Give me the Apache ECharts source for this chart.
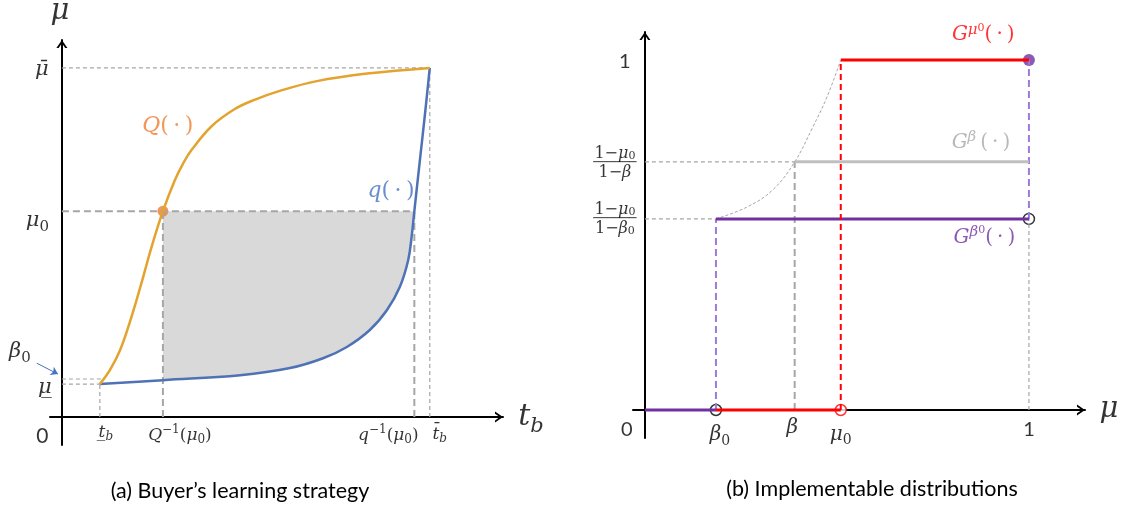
<!DOCTYPE html>
<html><head><meta charset="utf-8">
<script src="https://cdn.jsdelivr.net/npm/echarts@6/dist/echarts.min.js"></script>
<style>html,body{margin:0;padding:0;background:#fff;}#c{width:1123px;height:508px;}</style>
</head><body><div id="c"></div>
<script>
// ---------- Panel (a): buyer's learning strategy ----------
const tbLow = 0.86, QInv = 2.29, qInv = 7.99, tbBar = 8.34;
const muLow = 0.875, beta0L = 1.01, mu0L = 5.46, muBar = 9.26;
const QCurve = [[0.86,0.875],[1.09,1.25],[1.32,1.78],[1.54,2.52],[1.79,3.50],[2.04,4.54],[2.29,5.46],[2.56,6.28],[2.75,6.73],[2.95,7.10],[3.40,7.72],[3.92,8.17],[4.38,8.42],[4.94,8.65],[5.78,8.91],[6.92,9.11],[8.34,9.26]];
const qCurve = [[0.86,0.875],[2.29,0.98],[4.04,1.11],[5.17,1.30],[5.92,1.56],[6.46,1.86],[6.98,2.31],[7.37,2.84],[7.66,3.45],[7.85,4.16],[7.93,4.80],[7.99,5.46],[8.11,6.75],[8.23,8.02],[8.34,9.26]];
const leftXTickValues = [tbLow, QInv, qInv, tbBar];
const leftXTickLabels = ['{i|t\u0332}{si|b}', '{i|Q}{p|\u22121}{r|(}{i|μ}{s|0}{r|)}', '{i|q}{p|\u22121}{r|(}{i|μ}{s|0}{r|)}', '{i|t\u0304}{si|b}'];
const leftYTickValues = [muBar, mu0L, beta0L, muLow];
const leftYTickLabels = ['{i|μ\u0304}', '{i|μ}{s|0}', '{i|β}{s|0}', '{i|μ\u0332}'];

// ---------- Panel (b): implementable distributions ----------
const beta0 = 0.185, beta = 0.39, mu0 = 0.51;
const levelBeta0 = 0.546, levelBeta = 0.709, levelOne = 1;
const boundaryCurve = [[0.185,0.546],[0.266,0.58],[0.333,0.629],[0.39,0.709],[0.4375,0.809],[0.474,0.894],[0.51,1.0]];
const rightXTickValues = [beta0, beta, mu0, 1];
const rightXTickLabels = ['{i|β}{s|0}', '{i|β}', '{i|μ}{s|0}', '{n|1}'];
const rightYTickValues = [levelOne, levelBeta, levelBeta0];
const rightYTickLabels = ['{n|1}',
  '{r|1\u2212}{i|μ}{s|0}\n{bar|──────}\n{r|1\u2212}{i|β}',
  '{r|1\u2212}{i|μ}{s|0}\n{bar|──────}\n{r|1\u2212}{i|β}{s|0}'];

// ---------- styling helpers ----------
const F = 'DejaVu Serif';
function rich(size, lhf) {
  lhf = lhf || 1.3;
  const lh = Math.round(size * lhf), ss = Math.round(size * 0.7);
  return {
    i: {fontFamily: F, fontStyle: 'italic', fontSize: size, lineHeight: lh},
    r: {fontFamily: F, fontSize: size, lineHeight: lh},
    n: {fontFamily: 'Lato', fontSize: size, lineHeight: lh},
    s: {fontFamily: F, fontSize: ss, lineHeight: ss, verticalAlign: 'bottom'},
    si: {fontFamily: F, fontStyle: 'italic', fontSize: ss, lineHeight: ss, verticalAlign: 'bottom'},
    p: {fontFamily: F, fontSize: ss, lineHeight: ss, verticalAlign: 'top'},
    pi: {fontFamily: F, fontStyle: 'italic', fontSize: Math.round(size * 0.75), lineHeight: Math.round(size * 0.75), verticalAlign: 'top'},
    ps: {fontFamily: F, fontSize: Math.round(size * 0.55), lineHeight: Math.round(size * 1.0), verticalAlign: 'top'},
    bar: {fontFamily: 'DejaVu Sans', fontSize: 12, lineHeight: 3}
  };
}
function lab(value, txt, dx, dy, size, color, lhf) {
  return {value: value, txt: txt, label: {offset: [dx, dy], color: color || '#000', fontSize: size, fontFamily: F,
    rich: rich(size, lhf), align: 'center', verticalAlign: 'middle'}};
}
function labels(grid, items) {
  return {type: 'scatter', xAxisIndex: grid, yAxisIndex: grid, data: items, symbolSize: 1, clip: false, silent: true, z: 10,
    itemStyle: {color: 'rgba(0,0,0,0)'},
    label: {show: true, position: 'inside', formatter: p => p.data.txt, textBorderWidth: 0}};
}
function seg(grid, pts, color, width, type, smooth) {
  return {type: 'line', xAxisIndex: grid, yAxisIndex: grid, data: pts, showSymbol: false, symbol: 'none', silent: true,
    smooth: smooth || false, clip: false,
    lineStyle: {color: color, width: width, type: type || 'solid', cap: 'butt'}};
}
const G = '#A6A6A6', THIN = [4, 3], THICK = [7, 4];
const ARROW = 'path://M0,8 L5.5,0 L11,8 L8.8,8 L5.5,3.2 L2.2,8 Z';
function axis(grid, min, max) {
  return {gridIndex: grid, type: 'value', min: min, max: max,
    axisLine: {onZero: true, lineStyle: {color: '#000', width: 2}, symbol: ['none', ARROW], symbolSize: [11, 8], symbolOffset: [0, -4]},
    axisTick: {show: false}, axisLabel: {show: false}, splitLine: {show: false}};
}

const shadePoints = [[QInv, mu0L]].concat(qCurve.filter(p => p[0] >= QInv && p[0] <= qInv), [[qInv, mu0L]]);

const leftYOffsets = [[-20, 1.5], [-24.5, 9.5], [-42, -27], [-17, 3.5]];
const leftXOffsets = [[6, 15], [17, 18], [-26, 18], [10, 17]];
const rightXOffsets = [[4, 25], [-2.5, 18], [0, 24.5], [0, 19.5]];
const rightYOffsets = [[-20, 1.5], [-30, 1], [-30, 0]];
const rightYSizes = [20, 16, 16];

const leftLabelItems = []
  .concat(leftYTickValues.map((v, i) => lab([0, v], leftYTickLabels[i], leftYOffsets[i][0], leftYOffsets[i][1], 21)))
  .concat(leftXTickValues.map((v, i) => lab([v, 0], leftXTickLabels[i], leftXOffsets[i][0], leftXOffsets[i][1], 17)))
  .concat([
    lab([0, 0], '{n|0}', -19.5, 19.5, 21),
    lab([10, 0], '{i|t}{si|b}', 28, 0, 30),
    lab([0, 10], '{i|μ}', -2, -29, 29),
    lab([2.40, 7.70], '{i|Q}{r|(\u2009·\u2009)}', 0, 0, 22, '#ED7D31'),
    lab([7.46, 5.98], '{i|q}{r|(\u2009·\u2009)}', 0, 0, 22, '#4472C4')
  ]);
const rightLabelItems = []
  .concat(rightXTickValues.map((v, i) => lab([v, 0], rightXTickLabels[i], rightXOffsets[i][0], rightXOffsets[i][1], 20)))
  .concat(rightYTickValues.map((v, i) => lab([0, v], rightYTickLabels[i], rightYOffsets[i][0], rightYOffsets[i][1], rightYSizes[i], '#000', i ? 1.0 : 1.3)))
  .concat([
    lab([0, 0], '{n|0}', -18, 19.5, 20),
    lab([1.146, 0], '{i|μ}', 24, -1, 29),
    lab([0.881, 1.071], '{i|G}{pi|μ}{ps|0}{r|(\u2009·\u2009)}', 0, 0, 20, '#FF0000'),
    lab([0.875, 0.764], '{i|G}{pi|β}{r|\u2009(\u2009·\u2009)}', 0, 0, 20, '#A6A6A6'),
    lab([0.884, 0.493], '{i|G}{pi|β}{ps|0}{r|(\u2009·\u2009)}', 0, 0, 20, '#7030A0')
  ]);

const LP = '#9E7BDB', PUR = '#7030A0', RED = '#FF0000', LG = '#BFBFBF';

const option = {
  animation: false,
  backgroundColor: '#fff',
  grid: [
    {left: 50, right: 620, top: 40, bottom: 63},
    {left: 633, right: 38, top: 32, bottom: 70}
  ],
  xAxis: [axis(0, -0.27, 10), axis(1, -0.031, 1.146)],
  yAxis: [axis(0, -0.74, 10), axis(1, -0.08, 1.08)],
  graphic: [
    {type: 'text', x: 240, y: 491.5, style: {text: '(a) Buyer\u2019s learning strategy', fill: '#000', font: '21.5px Lato', align: 'center', verticalAlign: 'middle'}},
    {type: 'text', x: 872, y: 489, style: {text: '(b) Implementable distributions', fill: '#000', font: '21.5px Lato', align: 'center', verticalAlign: 'middle'}}
  ],
  series: [
    // ----- panel (a) -----
    {type: 'custom', xAxisIndex: 0, yAxisIndex: 0, data: [[QInv, mu0L]], silent: true, clip: false,
      renderItem: (params, api) => ({type: 'polygon', shape: {points: shadePoints.map(p => api.coord(p))}, style: {fill: '#D9D9D9'}})},
    seg(0, [[0, muBar], [tbBar, muBar]], G, 1.2, THIN),
    seg(0, [[0, beta0L], [0.96, beta0L]], G, 1.2, THIN),
    seg(0, [[0, muLow], [tbLow, muLow]], G, 1.2, THIN),
    seg(0, [[tbLow, 0], [tbLow, muLow]], G, 1.2, THIN),
    seg(0, [[tbBar, 0], [tbBar, muBar]], G, 1.2, THIN),
    seg(0, [[0, mu0L], [qInv, mu0L]], G, 2, THICK),
    seg(0, [[QInv, 0], [QInv, mu0L]], G, 2, THICK),
    seg(0, [[qInv, 0], [qInv, mu0L]], G, 2, THICK),
    seg(0, qCurve, '#4E72B5', 2.5, 'solid', 0.4),
    seg(0, QCurve, '#E3A32E', 2.5, 'solid', 0.4),
    {type: 'scatter', xAxisIndex: 0, yAxisIndex: 0, data: [[QInv, mu0L]], symbolSize: 11, silent: true, itemStyle: {color: '#ED7D31'}},
    {type: 'lines', coordinateSystem: 'cartesian2d', xAxisIndex: 0, yAxisIndex: 0, clip: false, silent: true,
      symbol: ['none', 'arrow'], symbolSize: 7,
      lineStyle: {color: '#4472C4', width: 1, opacity: 1},
      data: [{coords: [[-0.57, beta0L + 0.42], [-0.09, beta0L + 0.13]]}]},
    labels(0, leftLabelItems),
    // ----- panel (b) -----
    seg(1, boundaryCurve, G, 1, [3, 2], 0.4),
    seg(1, [[0, levelBeta], [beta, levelBeta]], G, 1.2, THIN),
    seg(1, [[0, levelBeta0], [beta0, levelBeta0]], G, 1.2, THIN),
    seg(1, [[1, 0], [1, levelBeta0]], G, 1.2, THIN),
    seg(1, [[beta, 0], [beta, levelBeta]], G, 2, THICK),
    seg(1, [[beta0, 0], [beta0, levelBeta0]], LP, 2, THICK),
    seg(1, [[1, levelBeta0], [1, levelOne]], LP, 2, THICK),
    seg(1, [[beta, levelBeta], [1, levelBeta]], LG, 3),
    seg(1, [[beta0, levelBeta0], [1, levelBeta0]], PUR, 3),
    seg(1, [[mu0, 0], [mu0, levelOne]], RED, 2, [6, 4]),
    seg(1, [[mu0, levelOne], [1, levelOne]], RED, 3),
    seg(1, [[0, 0], [beta0, 0]], PUR, 3),
    seg(1, [[beta0, 0], [mu0, 0]], RED, 3),
    {type: 'scatter', xAxisIndex: 1, yAxisIndex: 1, silent: true, clip: false, symbolSize: 11,
      data: [
        {value: [beta0, 0], itemStyle: {color: '#fff', borderColor: '#000', borderWidth: 1.5}},
        {value: [mu0, 0], itemStyle: {color: '#fff', borderColor: RED, borderWidth: 1.5}},
        {value: [1, levelBeta0], itemStyle: {color: '#fff', borderColor: '#000', borderWidth: 1.5}},
        {value: [1, levelOne], symbolSize: 12, itemStyle: {color: PUR}}
      ]},
    labels(1, rightLabelItems)
  ]
};
const chart = echarts.init(document.getElementById('c'));
chart.setOption(option);
</script>
</body></html>
